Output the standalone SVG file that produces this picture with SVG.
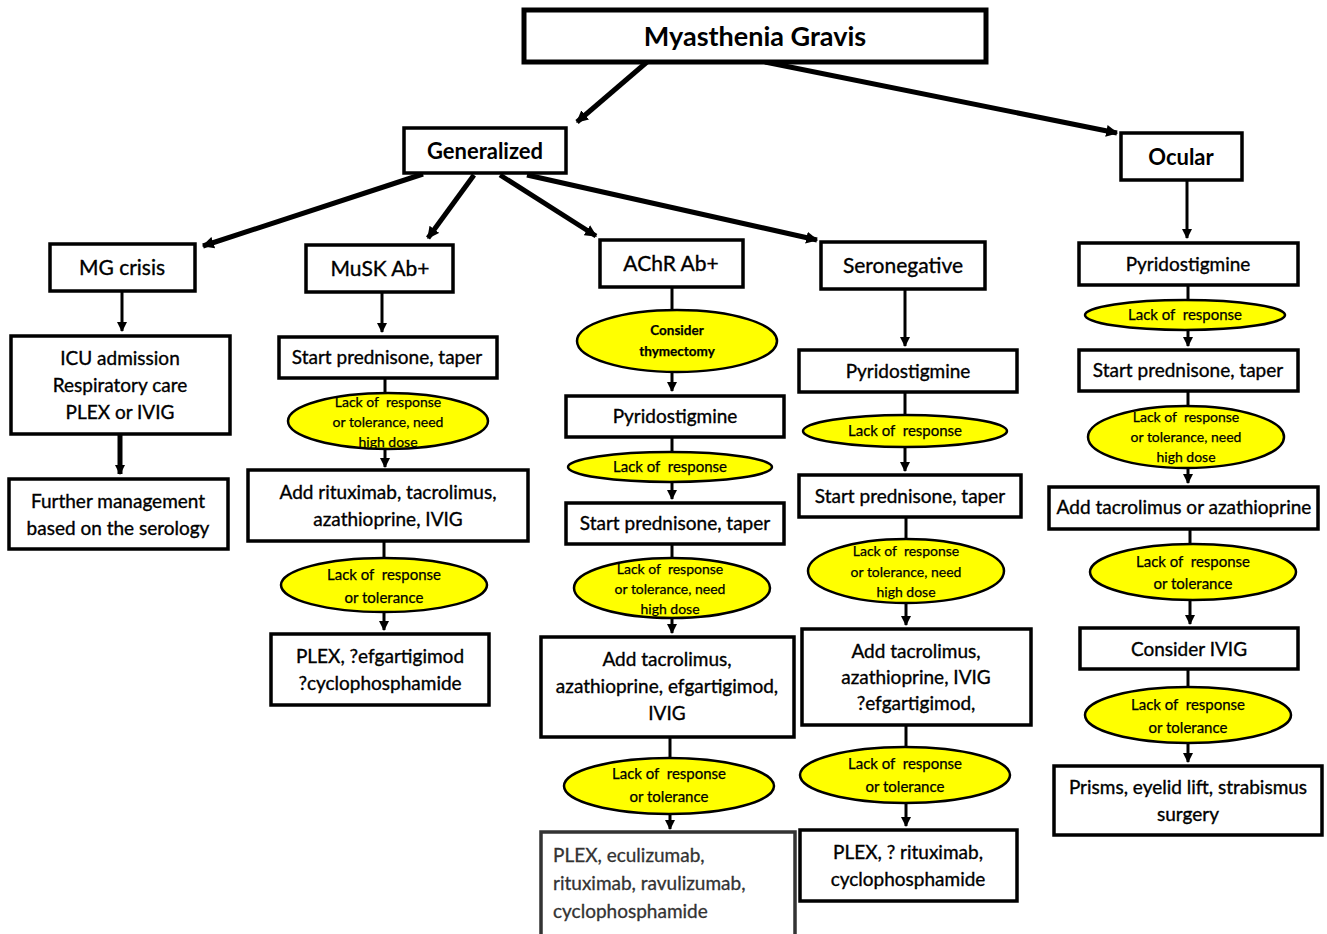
<svg xmlns="http://www.w3.org/2000/svg" width="1327" height="934" viewBox="0 0 1327 934">
<defs>
<style>
.b{fill:#fff;stroke:#000;stroke-width:3.5}
.e{fill:#ffff00;stroke:#000;stroke-width:2.5}
.t{font-family:Lato,"Liberation Sans",sans-serif;font-size:19px;fill:#000;stroke:#000;stroke-width:0.35;text-anchor:middle}
.l{font-family:Lato,"Liberation Sans",sans-serif;font-size:19px;fill:#333;stroke:#333;stroke-width:0.3;text-anchor:start}
.h{font-family:Lato,"Liberation Sans",sans-serif;font-size:22px;font-weight:bold;fill:#000;text-anchor:middle}
.s{font-family:Lato,"Liberation Sans",sans-serif;font-size:14px;fill:#000;stroke:#000;stroke-width:0.25;text-anchor:middle}
.m{font-size:15px}
.n{font-size:21px}
.c{stroke:#000;stroke-width:3;fill:none}
.k{stroke:#000;stroke-width:5;fill:none}
</style>
<marker id="a" viewBox="0 0 10 10" refX="9" refY="5" markerWidth="10" markerHeight="10" markerUnits="userSpaceOnUse" orient="auto"><path d="M0,0L10,5L0,10z" fill="#000"/></marker>
<marker id="ak" viewBox="0 0 10 10" refX="9" refY="5" markerWidth="12" markerHeight="12" markerUnits="userSpaceOnUse" orient="auto"><path d="M0,0L10,5L0,10z" fill="#000"/></marker>
</defs>
<rect width="1327" height="934" fill="#fff"/>
<g id="connectors">
<line class="k" x1="647" y1="62" x2="577" y2="122" marker-end="url(#ak)"/>
<line class="k" x1="765" y1="62" x2="1117" y2="133" marker-end="url(#ak)"/>
<line class="k" x1="423" y1="174" x2="203" y2="246" marker-end="url(#ak)"/>
<line class="k" x1="474" y1="175" x2="428" y2="238" marker-end="url(#ak)"/>
<line class="k" x1="500" y1="175" x2="596" y2="236" marker-end="url(#ak)"/>
<line class="k" x1="527" y1="175" x2="817" y2="240" marker-end="url(#ak)"/>
<line class="c" x1="1187" y1="180" x2="1187" y2="238" marker-end="url(#a)"/>
<line class="c" x1="122" y1="291" x2="122" y2="331" marker-end="url(#a)"/>
<line class="k" x1="120" y1="434" x2="120" y2="474" marker-end="url(#a)"/>
<line class="c" x1="382" y1="292" x2="382" y2="332" marker-end="url(#a)"/>
<line class="c" x1="385" y1="378" x2="385" y2="467" marker-end="url(#a)"/>
<line class="c" x1="384" y1="541" x2="384" y2="630" marker-end="url(#a)"/>
<line class="c" x1="672" y1="287" x2="672" y2="391" marker-end="url(#a)"/>
<line class="c" x1="672" y1="437" x2="672" y2="499" marker-end="url(#a)"/>
<line class="c" x1="672" y1="544" x2="672" y2="633" marker-end="url(#a)"/>
<line class="c" x1="670" y1="737" x2="670" y2="829" marker-end="url(#a)"/>
<line class="c" x1="905" y1="289" x2="905" y2="346" marker-end="url(#a)"/>
<line class="c" x1="905" y1="392" x2="905" y2="471" marker-end="url(#a)"/>
<line class="c" x1="906" y1="517" x2="906" y2="625" marker-end="url(#a)"/>
<line class="c" x1="906" y1="725" x2="906" y2="826" marker-end="url(#a)"/>
<line class="c" x1="1188" y1="285" x2="1188" y2="346" marker-end="url(#a)"/>
<line class="c" x1="1188" y1="391" x2="1188" y2="483" marker-end="url(#a)"/>
<line class="c" x1="1190" y1="529" x2="1190" y2="624" marker-end="url(#a)"/>
<line class="c" x1="1188" y1="669" x2="1188" y2="762" marker-end="url(#a)"/>
</g>
<g id="mg"><rect class="b" x="524" y="10" width="462" height="52" style="stroke-width:5"/><text class="h" x="755" y="46" style="font-size:27px">Myasthenia Gravis</text></g>
<g id="generalized"><rect class="b" x="404" y="128" width="162" height="45"/><text class="h" x="485" y="159">Generalized</text></g>
<g id="ocular"><rect class="b" x="1121" y="133" width="121" height="47"/><text class="h" x="1181" y="165">Ocular</text></g>
<g id="crisis"><rect class="b" x="50" y="244" width="145" height="47"/><text class="t n" x="122" y="275">MG crisis</text></g>
<g id="icu"><rect class="b" x="11" y="336" width="219" height="98"/><text class="t" x="120" y="365">ICU admission</text><text class="t" x="120" y="392">Respiratory care</text><text class="t" x="120" y="419">PLEX or IVIG</text></g>
<g id="further"><rect class="b" x="9" y="479" width="219" height="70"/><text class="t" x="118" y="508">Further management</text><text class="t" x="118" y="535">based on the serology</text></g>
<g id="musk"><rect class="b" x="306" y="245" width="147" height="47"/><text class="t n" x="380" y="276">MuSK Ab+</text></g>
<g id="musk1"><rect class="b" x="279" y="337" width="218" height="41"/><text class="t" x="387" y="364">Start prednisone, taper</text></g>
<g id="musk2"><ellipse class="e" cx="388" cy="421" rx="100" ry="28"/><text class="s" x="388" y="407" xml:space="preserve">Lack of  response</text><text class="s" x="388" y="427">or tolerance, need</text><text class="s" x="388" y="447">high dose</text></g>
<g id="musk3"><rect class="b" x="248" y="470" width="280" height="71"/><text class="t" x="388" y="499">Add rituximab, tacrolimus,</text><text class="t" x="388" y="526">azathioprine, IVIG</text></g>
<g id="musk4"><ellipse class="e" cx="384" cy="585" rx="103" ry="27"/><text class="s m" x="384" y="580" xml:space="preserve">Lack of  response</text><text class="s m" x="384" y="603">or tolerance</text></g>
<g id="musk5"><rect class="b" x="271" y="634" width="218" height="71"/><text class="t" x="380" y="663">PLEX, ?efgartigimod</text><text class="t" x="380" y="690">?cyclophosphamide</text></g>
<g id="achr"><rect class="b" x="600" y="240" width="143" height="47"/><text class="t n" x="671" y="271">AChR Ab+</text></g>
<g id="achr1"><ellipse class="e" cx="677" cy="341" rx="100" ry="31"/><text class="s" x="677" y="335" style="font-weight:bold;font-size:13.5px">Consider</text><text class="s" x="677" y="356" style="font-weight:bold;font-size:13.5px">thymectomy</text></g>
<g id="achr2"><rect class="b" x="566" y="396" width="218" height="41"/><text class="t" x="675" y="423">Pyridostigmine</text></g>
<g id="achr3"><ellipse class="e" cx="670" cy="467" rx="102" ry="15"/><text class="s m" x="670" y="472" xml:space="preserve">Lack of  response</text></g>
<g id="achr4"><rect class="b" x="566" y="503" width="218" height="41"/><text class="t" x="675" y="530">Start prednisone, taper</text></g>
<g id="achr5"><ellipse class="e" cx="672" cy="588" rx="98" ry="30"/><text class="s" x="670" y="574" xml:space="preserve">Lack of  response</text><text class="s" x="670" y="594">or tolerance, need</text><text class="s" x="670" y="614">high dose</text></g>
<g id="achr6"><rect class="b" x="541" y="637" width="253" height="100"/><text class="t" x="667" y="666">Add tacrolimus,</text><text class="t" x="667" y="693">azathioprine, efgartigimod,</text><text class="t" x="667" y="720">IVIG</text></g>
<g id="achr7"><ellipse class="e" cx="669" cy="786" rx="105" ry="28"/><text class="s m" x="669" y="779" xml:space="preserve">Lack of  response</text><text class="s m" x="669" y="802">or tolerance</text></g>
<g id="achr8"><rect class="b" x="541" y="832" width="254" height="110" style="stroke:#333"/><text class="l" x="553" y="862">PLEX, eculizumab,</text><text class="l" x="553" y="890">rituximab, ravulizumab,</text><text class="l" x="553" y="918">cyclophosphamide</text></g>
<g id="sero"><rect class="b" x="821" y="242" width="164" height="47"/><text class="t n" x="903" y="273">Seronegative</text></g>
<g id="sero1"><rect class="b" x="799" y="350" width="218" height="42"/><text class="t" x="908" y="378">Pyridostigmine</text></g>
<g id="sero2"><ellipse class="e" cx="905" cy="431" rx="102" ry="16"/><text class="s m" x="905" y="436" xml:space="preserve">Lack of  response</text></g>
<g id="sero3"><rect class="b" x="799" y="475" width="222" height="42"/><text class="t" x="910" y="503">Start prednisone, taper</text></g>
<g id="sero4"><ellipse class="e" cx="906" cy="571" rx="98" ry="32"/><text class="s" x="906" y="556" xml:space="preserve">Lack of  response</text><text class="s" x="906" y="577">or tolerance, need</text><text class="s" x="906" y="597">high dose</text></g>
<g id="sero5"><rect class="b" x="802" y="629" width="229" height="96"/><text class="t" x="916" y="658">Add tacrolimus,</text><text class="t" x="916" y="684">azathioprine, IVIG</text><text class="t" x="916" y="710">?efgartigimod,</text></g>
<g id="sero6"><ellipse class="e" cx="905" cy="775" rx="105" ry="28"/><text class="s m" x="905" y="769" xml:space="preserve">Lack of  response</text><text class="s m" x="905" y="792">or tolerance</text></g>
<g id="sero7"><rect class="b" x="800" y="830" width="217" height="71"/><text class="t" x="908" y="859">PLEX, ? rituximab,</text><text class="t" x="908" y="886">cyclophosphamide</text></g>
<g id="oc1"><rect class="b" x="1079" y="243" width="219" height="42"/><text class="t" x="1188" y="271">Pyridostigmine</text></g>
<g id="oc2"><ellipse class="e" cx="1185" cy="315" rx="100" ry="15"/><text class="s m" x="1185" y="320" xml:space="preserve">Lack of  response</text></g>
<g id="oc3"><rect class="b" x="1079" y="350" width="219" height="41"/><text class="t" x="1188" y="377">Start prednisone, taper</text></g>
<g id="oc4"><ellipse class="e" cx="1186" cy="437" rx="98" ry="31"/><text class="s" x="1186" y="422" xml:space="preserve">Lack of  response</text><text class="s" x="1186" y="442">or tolerance, need</text><text class="s" x="1186" y="462">high dose</text></g>
<g id="oc5"><rect class="b" x="1049" y="487" width="269" height="42"/><text class="t" x="1184" y="514">Add tacrolimus or azathioprine</text></g>
<g id="oc6"><ellipse class="e" cx="1193" cy="572" rx="103" ry="28"/><text class="s m" x="1193" y="567" xml:space="preserve">Lack of  response</text><text class="s m" x="1193" y="589">or tolerance</text></g>
<g id="oc7"><rect class="b" x="1080" y="628" width="218" height="41"/><text class="t" x="1189" y="656">Consider IVIG</text></g>
<g id="oc8"><ellipse class="e" cx="1188" cy="715" rx="103" ry="28"/><text class="s m" x="1188" y="710" xml:space="preserve">Lack of  response</text><text class="s m" x="1188" y="733">or tolerance</text></g>
<g id="oc9"><rect class="b" x="1054" y="766" width="268" height="69"/><text class="t" x="1188" y="794">Prisms, eyelid lift, strabismus</text><text class="t" x="1188" y="821">surgery</text></g>
</svg>
